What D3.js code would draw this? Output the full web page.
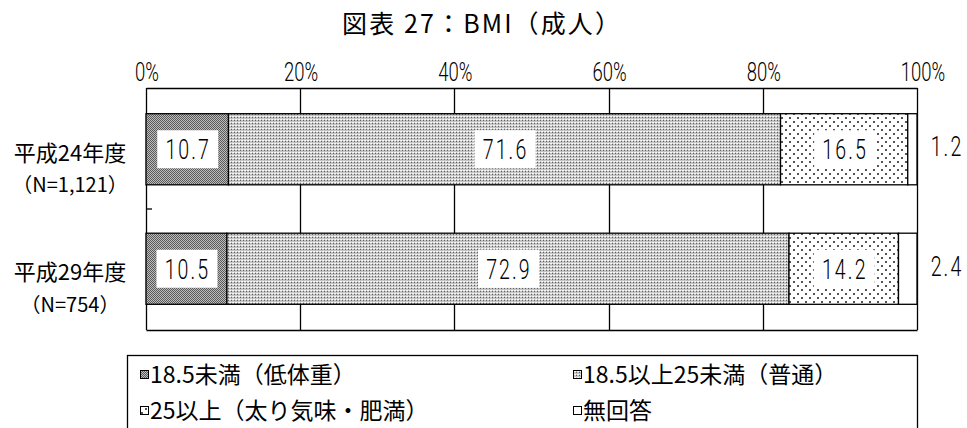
<!DOCTYPE html>
<html>

<head>
  <meta charset="utf-8">
  <script src="https://d3js.org/d3.v7.min.js"></script>
  <style>
    body {
      margin: 0;
      background: #fff;
    }

    .num {
      font-family: Roboto, "Noto Sans", sans-serif;
      font-weight: 300;
    }

    .jp {
      font-family: "Noto Sans CJK JP", sans-serif;
    }
  </style>
</head>

<body>
  <svg width="967" height="428"></svg>
  <script>
    // データ
    const categories = ["平成24年度", "平成29年度"];
    const sampleSizes = ["（N=1,121）", "（N=754）"];
    const seriesNames = ["18.5未満（低体重）", "18.5以上25未満（普通）", "25以上（太り気味・肥満）", "無回答"];
    const underweight = [10.7, 10.5];
    const normal = [71.6, 72.9];
    const overweight = [16.5, 14.2];
    const noAnswer = [1.2, 2.4];
    const tickValues = [0, 20, 40, 60, 80, 100];

    const svg = d3.select("svg");
    const plotTop = 88, plotBottom = 330, plotLeft = 146, plotRight = 917;

    // パターン
    const defs = svg.append("defs");
    const p1 = defs.append("pattern").attr("id", "pat0")
      .attr("width", 2).attr("height", 2).attr("patternUnits", "userSpaceOnUse");
    p1.append("rect").attr("width", 2).attr("height", 2).attr("fill", "#bdbdbd");
    p1.append("rect").attr("width", 1).attr("height", 1).attr("fill", "#5a5a5a");
    p1.append("rect").attr("x", 1).attr("y", 1).attr("width", 1).attr("height", 1).attr("fill", "#5a5a5a");

    const p2 = defs.append("pattern").attr("id", "pat1")
      .attr("width", 3).attr("height", 3).attr("patternUnits", "userSpaceOnUse");
    p2.append("rect").attr("width", 3).attr("height", 3).attr("fill", "#c4c4c4");
    p2.append("rect").attr("width", 1).attr("height", 1).attr("fill", "#606060");
    p2.append("rect").attr("x", 2).attr("y", 2).attr("width", 1).attr("height", 1).attr("fill", "#fff");
    p2.append("rect").attr("x", 1).attr("y", 2).attr("width", 1).attr("height", 1).attr("fill", "#f0f0f0");

    const p3 = defs.append("pattern").attr("id", "pat2")
      .attr("width", 8).attr("height", 8).attr("patternUnits", "userSpaceOnUse");
    p3.append("rect").attr("width", 8).attr("height", 8).attr("fill", "#fff");
    p3.append("rect").attr("x", 1).attr("y", 1).attr("width", 2).attr("height", 2).attr("fill", "#555");
    p3.append("rect").attr("x", 5).attr("y", 5).attr("width", 2).attr("height", 2).attr("fill", "#555");

    const fills = ["url(#pat0)", "url(#pat1)", "url(#pat2)", "#fff"];

    const x = d3.scaleLinear().domain([0, 100]).range([plotLeft, plotRight]);
    const y = d3.scaleBand().domain(categories).range([plotTop, plotBottom])
      .paddingInner(0.405).paddingOuter(0.215);

    // タイトル
    svg.append("text")
      .attr("class", "jp")
      .attr("x", 342).attr("y", 33)
      .attr("font-size", 25)
      .attr("textLength", 278)
      .attr("lengthAdjust", "spacing")
      .text("図表 27：BMI（成人）");

    // 細長い数字（横方向に縮める）
    function narrowText(sel, size, sx, spacing) {
      sel.attr("class", "num")
        .attr("font-size", size)
        .attr("letter-spacing", spacing)
        .attr("text-anchor", "middle")
        .attr("transform", function () {
          const t = d3.select(this);
          const cx = +t.attr("data-x"), cy = +t.attr("data-y");
          return `translate(${cx},${cy}) scale(${sx},1)`;
        });
    }

    // 目盛りラベル
    svg.append("g").selectAll("text")
      .data(tickValues)
      .join("text")
      .attr("data-x", d => x(d) + (d === 100 ? 6 : 1))
      .attr("data-y", 81)
      .text(d => d + "%")
      .call(narrowText, 25, 0.74, 0);

    // グリッド線
    svg.append("g").selectAll("line")
      .data(tickValues.slice(1))
      .join("line")
      .attr("x1", d => Math.round(x(d)) + 0.5)
      .attr("x2", d => Math.round(x(d)) + 0.5)
      .attr("y1", plotTop).attr("y2", plotBottom)
      .attr("stroke", "#000").attr("stroke-width", 1.3);

    svg.append("path")
      .attr("d", `M${plotLeft + 0.5},${plotTop + 0.5}H${plotRight + 0.5}M${plotLeft + 0.5},${plotBottom + 0.5}H${plotRight + 0.5}M${plotLeft + 0.5},${plotTop}V${plotBottom}`)
      .attr("stroke", "#000").attr("stroke-width", 1.3).attr("fill", "none");

    // 区切りの目盛り
    const midY = y(categories[1]) - y.step() * y.paddingInner() / 2;
    svg.append("line")
      .attr("x1", plotLeft).attr("x2", plotLeft + 6)
      .attr("y1", midY).attr("y2", midY)
      .attr("stroke", "#000").attr("stroke-width", 1.3);

    // 積み上げ
    const rows = categories.map((c, i) => {
      const vals = [underweight[i], normal[i], overweight[i], noAnswer[i]];
      let acc = 0;
      return vals.map((v, k) => {
        const seg = { cat: c, k: k, v: v, x0: acc, x1: acc + v };
        acc += v;
        return seg;
      });
    });
    const segs = rows.flat();

    svg.append("g").selectAll("rect")
      .data(segs)
      .join("rect")
      .attr("x", d => x(d.x0))
      .attr("y", d => y(d.cat))
      .attr("width", d => x(d.x1) - x(d.x0))
      .attr("height", y.bandwidth())
      .attr("fill", d => fills[d.k])
      .attr("stroke", "#000")
      .attr("stroke-width", 1.3);

    // データラベル
    const inner = segs.filter(d => d.k < 3);
    svg.append("g").selectAll("rect")
      .data(inner)
      .join("rect")
      .attr("x", d => (x(d.x0) + x(d.x1)) / 2 - 30)
      .attr("y", d => y(d.cat) + y.bandwidth() / 2 - 19)
      .attr("width", 61).attr("height", 38)
      .attr("fill", "#fff");
    svg.append("g").selectAll("text")
      .data(inner)
      .join("text")
      .attr("data-x", d => (x(d.x0) + x(d.x1)) / 2 + 1)
      .attr("data-y", d => y(d.cat) + y.bandwidth() / 2 + 10)
      .text(d => d3.format(".1f")(d.v))
      .call(narrowText, 28, 0.7, 3);

    svg.append("g").selectAll("text")
      .data(segs.filter(d => d.k === 3))
      .join("text")
      .attr("data-x", 947)
      .attr("data-y", d => y(d.cat) + y.bandwidth() / 2 + 7)
      .text(d => d3.format(".1f")(d.v))
      .call(narrowText, 28, 0.7, 3);

    // カテゴリーラベル
    const cat = svg.append("g").selectAll("g")
      .data(categories)
      .join("g")
      .attr("transform", d => `translate(70,${y(d) + y.bandwidth() / 2})`);
    cat.append("text")
      .attr("class", "jp")
      .attr("text-anchor", "middle")
      .attr("y", 4).attr("dy", "0.35em")
      .attr("font-size", 22)
      .text(d => d);
    cat.append("text")
      .attr("class", "jp")
      .attr("text-anchor", "middle")
      .attr("y", 36).attr("dy", "0.35em")
      .attr("font-size", 20)
      .text((d, i) => sampleSizes[i]);

    // 凡例
    svg.append("rect")
      .attr("x", 127.5).attr("y", 355.5).attr("width", 790).attr("height", 100)
      .attr("fill", "none").attr("stroke", "#000").attr("stroke-width", 1.3);

    const leg = svg.append("g").selectAll("g")
      .data(seriesNames)
      .join("g")
      .attr("transform", (d, i) => `translate(${i % 2 ? 573 : 140},${i < 2 ? 375 : 411})`);
    leg.append("rect")
      .attr("x", 0.5).attr("y", -4.5).attr("width", 8).attr("height", 8)
      .attr("fill", (d, i) => fills[i])
      .attr("stroke", "#000").attr("stroke-width", 1);
    leg.append("text")
      .attr("class", "jp")
      .attr("x", 10)
      .attr("dy", "0.36em")
      .attr("font-size", 23)
      .text(d => d);
  </script>
</body>

</html>
